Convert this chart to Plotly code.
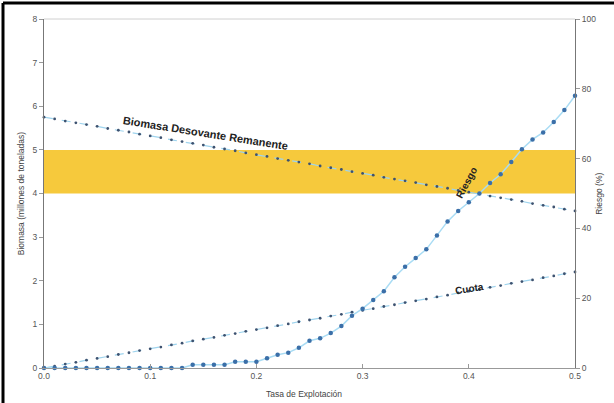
import plotly.graph_objects as go

# Data (x step 0.01)
tasa = [round(i * 0.01, 2) for i in range(51)]
biomasa = [5.75, 5.71, 5.66, 5.62, 5.58, 5.54, 5.49, 5.45, 5.41, 5.36, 5.32, 5.28, 5.23, 5.19, 5.15,
           5.11, 5.06, 5.02, 4.98, 4.93, 4.89, 4.85, 4.80, 4.76, 4.72, 4.68, 4.63, 4.59, 4.55, 4.50,
           4.46, 4.42, 4.37, 4.33, 4.29, 4.25, 4.20, 4.16, 4.12, 4.07, 4.03, 3.99, 3.94, 3.90, 3.86,
           3.82, 3.77, 3.73, 3.69, 3.64, 3.60]
cuota = [0.00, 0.04, 0.09, 0.13, 0.18, 0.22, 0.26, 0.31, 0.35, 0.40, 0.44, 0.48, 0.53, 0.57, 0.62,
         0.66, 0.70, 0.75, 0.79, 0.84, 0.88, 0.92, 0.97, 1.01, 1.06, 1.10, 1.14, 1.19, 1.23, 1.28,
         1.32, 1.36, 1.41, 1.45, 1.50, 1.54, 1.58, 1.63, 1.67, 1.72, 1.76, 1.80, 1.85, 1.89, 1.94,
         1.98, 2.02, 2.07, 2.11, 2.16, 2.20]
riesgo = [0, 0, 0, 0, 0, 0, 0, 0, 0, 0, 0, 0, 0, 0, 0.9, 0.9, 0.9, 0.9, 1.8, 1.8, 1.8, 2.8, 3.8,
          4.4, 5.8, 7.8, 8.5, 10, 12, 15, 17, 19.5, 22, 26, 29, 31.5, 34, 38, 42, 45, 47.5, 50,
          53, 55.5, 59, 62.7, 65.5, 67.5, 70.5, 73.9, 78]
banda = [4, 5]
y_ticks = [0, 1, 2, 3, 4, 5, 6, 7, 8]
y2_ticks = [0, 20, 40, 60, 80, 100]
x_ticks = [0.0, 0.1, 0.2, 0.3, 0.4, 0.5]
x_labels = ["0.0", "0.1", "0.2", "0.3", "0.4", "0.5"]

FONT = "Liberation Sans, Arial, sans-serif"

fig = go.Figure()

fig.add_shape(type="rect", xref="x", yref="y", x0=0, x1=0.5, y0=banda[0], y1=banda[1],
              fillcolor="#f6c93c", line=dict(width=0), layer="below")

fig.add_trace(go.Scatter(x=tasa, y=biomasa, mode="lines+markers", cliponaxis=False,
                         line=dict(color="#9fd4ee", width=1.2, dash="dash"),
                         marker=dict(color="#3d5270", size=2.8), showlegend=False))
fig.add_trace(go.Scatter(x=tasa, y=cuota, mode="lines+markers", cliponaxis=False,
                         line=dict(color="#9fd4ee", width=1.2, dash="dash"),
                         marker=dict(color="#3d5270", size=2.8), showlegend=False))
fig.add_trace(go.Scatter(x=tasa, y=riesgo, yaxis="y2", mode="lines+markers", cliponaxis=False,
                         line=dict(color="#a9dcf4", width=1.5),
                         marker=dict(color="#3b6fa8", size=4.5), showlegend=False))

fig.add_annotation(x=0.152, y=5.39, xref="x", yref="y", text="<b>Biomasa Desovante Remanente</b>",
                   showarrow=False, textangle=9, font=dict(family=FONT, size=11, color="#222"))
fig.add_annotation(x=0.398, y=4.25, xref="x", yref="y", text="<b>Riesgo</b>",
                   showarrow=False, textangle=-62, font=dict(family=FONT, size=10, color="#222"))
fig.add_annotation(x=0.401, y=1.82, xref="x", yref="y", text="<b>Cuota</b>",
                   showarrow=False, textangle=-9, font=dict(family=FONT, size=10, color="#222"))

# axis titles as annotations
fig.add_annotation(x=0.49, y=-0.075, xref="paper", yref="paper", text="Tasa de Explotación",
                   showarrow=False, yanchor="middle", font=dict(family=FONT, size=8.5, color="#444"))
fig.add_annotation(x=-0.057, y=0.5, xref="paper", yref="paper", text="Biomasa (millones de toneladas)",
                   showarrow=False, textangle=-90, font=dict(family=FONT, size=8.5, color="#444"))
fig.add_annotation(x=1.057, y=0.5, xref="paper", yref="paper", text="Riesgo (%)",
                   showarrow=False, textangle=-90, font=dict(family=FONT, size=8.5, color="#444"))

# outer frame (left and top black border)
fig.add_shape(type="line", xref="paper", yref="paper", x0=-0.0772, x1=-0.0772, y0=-0.2, y1=1.046,
              line=dict(color="black", width=3))
fig.add_shape(type="line", xref="paper", yref="paper", x0=-0.0772, x1=1.2, y0=1.046, y1=1.046,
              line=dict(color="black", width=3))
# top light line
fig.add_shape(type="line", xref="paper", yref="paper", x0=0, x1=1, y0=1, y1=1,
              line=dict(color="#d0d0d0", width=1))

fig.update_layout(
    width=614, height=403,
    margin=dict(l=44, r=39, t=19, b=35, autoexpand=False),
    paper_bgcolor="white", plot_bgcolor="white",
    font=dict(family=FONT, size=8.5, color="#555"),
    xaxis=dict(range=[0, 0.5], tickvals=x_ticks, ticktext=x_labels, automargin=False,
               showgrid=False, zeroline=False, showline=True, linecolor="#999", linewidth=1,
               ticks="inside", ticklen=4, tickcolor="#999"),
    yaxis=dict(range=[0, 8], tickvals=y_ticks, showgrid=False, zeroline=False, showline=True,
               automargin=False, linecolor="#777", linewidth=1, ticks="outside", ticklen=4,
               tickcolor="#999"),
    yaxis2=dict(range=[0, 100], tickvals=y2_ticks, overlaying="y", side="right", showgrid=False,
                automargin=False, zeroline=False, showline=True, linecolor="#777", linewidth=1,
                ticks="outside", ticklen=4, tickcolor="#999"),
)

fig.write_html("out.html", config={"displayModeBar": False},
               post_script="document.body.style.margin='0';")
